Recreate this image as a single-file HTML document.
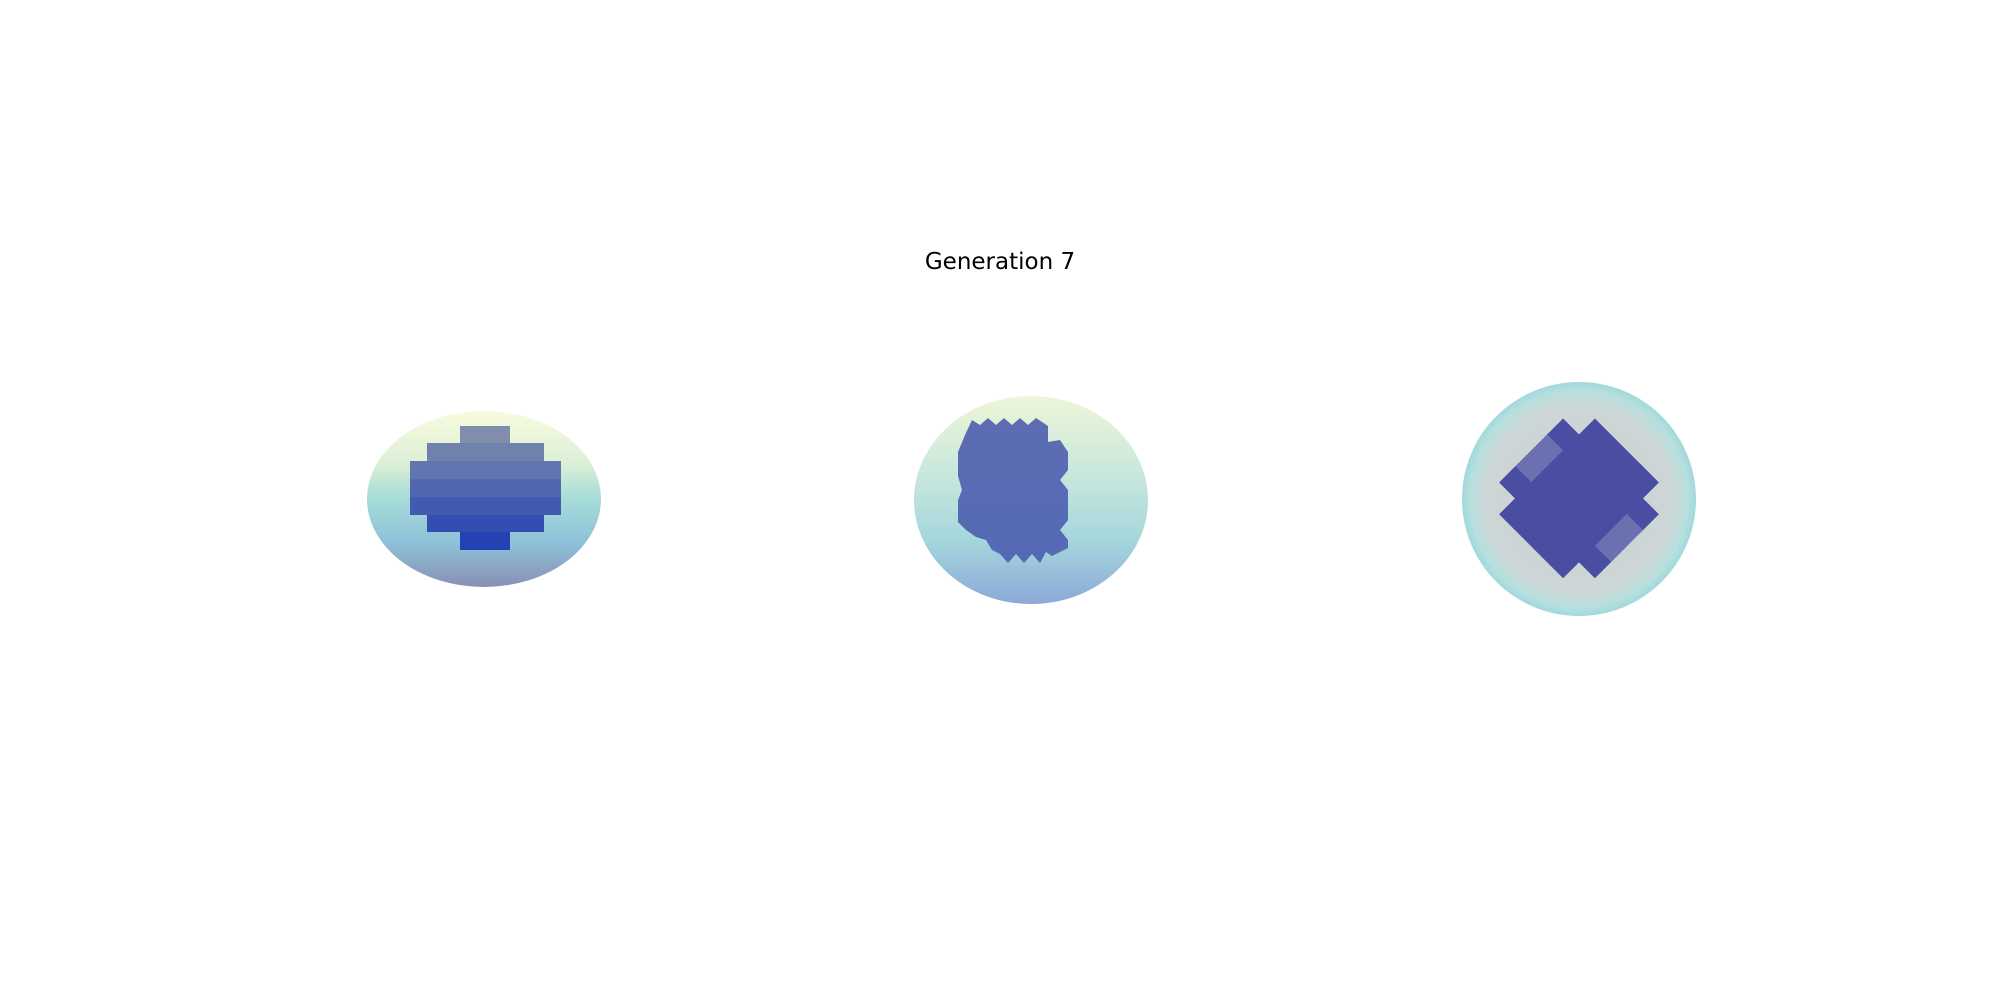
<!DOCTYPE html>
<html><head><meta charset="utf-8"><style>
html,body{margin:0;padding:0;background:#fff;width:2000px;height:1000px;overflow:hidden}
svg{display:block}
</style></head><body>
<svg id="fig" width="2000" height="1000" viewBox="0 0 2000 1000">
<defs>
<linearGradient id="g1" x1="0" y1="0" x2="0" y2="1">
<stop offset="0" stop-color="#f8fbdf"/><stop offset="0.3" stop-color="#dcefd6"/><stop offset="0.5" stop-color="#a6dcd8"/><stop offset="0.75" stop-color="#8ec0d8"/><stop offset="1" stop-color="#8890b4"/></linearGradient>
<linearGradient id="g2" x1="0" y1="0" x2="0" y2="1">
<stop offset="0" stop-color="#eef6d8"/><stop offset="0.4" stop-color="#c6e6dc"/><stop offset="0.7" stop-color="#a4d6dc"/><stop offset="1" stop-color="#8ca8d8"/></linearGradient>
<radialGradient id="g3" cx="0.5" cy="0.5" r="0.5">
<stop offset="0" stop-color="#cccfd2"/><stop offset="0.8" stop-color="#cdd6d6"/><stop offset="0.93" stop-color="#b6e0de"/><stop offset="1" stop-color="#a2d8dc"/></radialGradient>
</defs>
<text x="1000" y="269" text-anchor="middle" font-family="DejaVu Sans, sans-serif" font-size="23" fill="#000">Generation 7</text>
<g id="p1">
<ellipse cx="484" cy="499" rx="117" ry="88" fill="url(#g1)"/>
</g>
<g id="p2">
<ellipse cx="1031" cy="500" rx="117" ry="104" fill="url(#g2)"/>
<polygon points="965,435 972,420 980,425 988,418 996,425 1004,418 1012,425 1020,418 1028,425 1036,418 1048,426 1048,442 1060,440 1068,452 1068,470 1060,480 1068,490 1068,520 1060,530 1068,540 1068,548 1052,556 1046,552 1040,563 1032,554 1024,563 1016,554 1008,563 1000,554 992,550 986,540 976,537 966,530 958,522 958,500 962,490 958,476 958,452" fill="#4a5aae" opacity="0.88"/>
</g>
<g id="p3">
<ellipse cx="1579" cy="499" rx="117" ry="117" fill="url(#g3)"/>
<g id="p3v" transform="translate(1579,498) rotate(45)"></g>
</g>
</svg>
<script>
// left panel voxel rows: [left, right, top, bottom] in data units (relative to ellipsoid center)
const leftRowsX0=[-24,-57,-74,-74,-74,-57,-24];
const leftRowsX1=[26,60,77,77,77,60,26];
const leftRowsY0=[-73,-56,-38,-20,-2,16,33];
const leftRowsY1=[-56,-38,-20,-2,16,33,51];
// right panel voxel grid cells (rotated frame): column, row, shade (1=dark, 0=light)
const rightI=[1,2,3,4, 0,1,2,3,4,5, 0,1,2,3,4,5, 0,1,2,3,4,5, 0,1,2,3,4,5, 1,2,3,4];
const rightJ=[0,0,0,0, 1,1,1,1,1,1, 2,2,2,2,2,2, 3,3,3,3,3,3, 4,4,4,4,4,4, 5,5,5,5];
const rightShade=[1,1,1,1, 1,1,1,1,1,1, 0,1,1,1,1,0, 0,1,1,1,1,0, 1,1,1,1,1,1, 1,1,1,1];
const NS='http://www.w3.org/2000/svg';
function lx(v){return 484+v;} function ly(v){return 499+v;}
const p1=document.getElementById('p1');
for(let i=0;i<leftRowsX0.length;i++){
  const r=document.createElementNS(NS,'rect');
  r.setAttribute('x',lx(leftRowsX0[i]));r.setAttribute('y',ly(leftRowsY0[i]));
  r.setAttribute('width',leftRowsX1[i]-leftRowsX0[i]);r.setAttribute('height',leftRowsY1[i]-leftRowsY0[i]);
  const t=i/(leftRowsX0.length-1);
  const c=[Math.round(118-92*t),Math.round(132-78*t),Math.round(168+8*t)];
  r.setAttribute('fill','rgb('+c.join(',')+')');r.setAttribute('opacity','0.92');
  
  
  p1.appendChild(r);
}
const p3=document.getElementById('p3v');
const cell=22.5;
function gx(i){return (i-3)*cell;}
for(let k=0;k<rightI.length;k++){
  const r=document.createElementNS(NS,'rect');
  r.setAttribute('x',gx(rightI[k]));r.setAttribute('y',gx(rightJ[k]));
  r.setAttribute('width',cell+0.5);r.setAttribute('height',cell+0.5);
  r.setAttribute('fill',rightShade[k]?'#4a4ea2':'#6a70b0');
  
  
  p3.appendChild(r);
}
</script>
</body></html>
